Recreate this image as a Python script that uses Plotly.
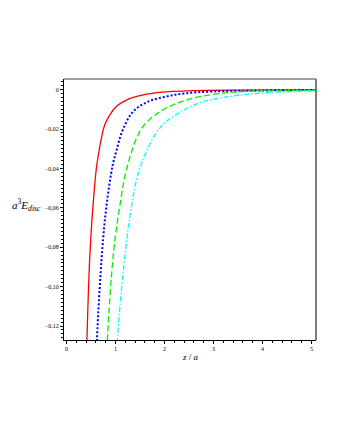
import plotly.graph_objects as go

# values (z/a, a^3 E_disc)
z_red = [0.40, 0.418, 0.48, 0.54, 0.61, 0.663, 0.712, 0.78, 0.882, 1.018, 1.223, 1.562, 1.903, 2.58, 3.5, 5.1]
e_red = [-0.150, -0.127, -0.083, -0.0595, -0.040, -0.0314, -0.0247, -0.0179, -0.0129, -0.0086,
         -0.0053, -0.0027, -0.0014, -0.0005, -0.0002, -0.0001]

z_blue = [0.60, 0.622, 0.728, 0.814, 0.943, 1.02, 1.14, 1.358, 1.664, 2.04, 2.414, 3.0, 4.0, 5.1]
e_blue = [-0.150, -0.127, -0.082, -0.0595, -0.0383, -0.031, -0.021, -0.0112, -0.0061, -0.0035,
          -0.0019, -0.0009, -0.0004, -0.0002]

z_green = [0.81, 0.835, 0.963, 1.086, 1.24, 1.54, 1.903, 2.175, 2.347, 2.721, 3.538, 4.3, 5.1]
e_green = [-0.150, -0.127, -0.082, -0.0595, -0.039, -0.0195, -0.0112, -0.0078, -0.0061, -0.0035,
           -0.0010, -0.0006, -0.0003]

z_cyan = [1.01, 1.039, 1.203, 1.325, 1.51, 1.903, 2.35, 2.721, 3.197, 3.879, 4.901, 5.1]
e_cyan = [-0.150, -0.127, -0.082, -0.0595, -0.039, -0.0195, -0.011, -0.0066, -0.0040, -0.0019,
          -0.0007, -0.0006]

y_ticks = [0, -0.02, -0.04, -0.06, -0.08, -0.10, -0.12]
y_ticktext = ["0", "\u22120,02", "\u22120,04", "\u22120,06", "\u22120,08", "\u22120,10", "\u22120,12"]
x_ticks = [0, 1, 2, 3, 4, 5]

fig = go.Figure()

fig.add_trace(go.Scatter(x=z_red, y=e_red, mode="lines", line_shape="spline",
                         line=dict(color="#ff0000", width=1.3)))
fig.add_trace(go.Scatter(x=z_blue, y=e_blue, mode="lines", line_shape="spline",
                         line=dict(color="#0000ff", width=2, dash="2px,2px")))
fig.add_trace(go.Scatter(x=z_green, y=e_green, mode="lines", line_shape="spline",
                         line=dict(color="#00ee00", width=1.3, dash="6px,3px")))
fig.add_trace(go.Scatter(x=z_cyan, y=e_cyan, mode="lines", line_shape="spline",
                         line=dict(color="#00ffff", width=1.3, dash="5px,2px,1.5px,2px")))

tickfont = dict(family="Liberation Serif", size=6, color="black")

# page body has an 8px margin, so the figure is a bit smaller than the window
fig.update_layout(
    width=332, height=432,
    margin=dict(l=56, r=24, t=71, b=100),
    paper_bgcolor="white", plot_bgcolor="white",
    showlegend=False,
    xaxis=dict(range=[-0.05, 5.09], tickvals=x_ticks, ticktext=[str(v) for v in x_ticks],
               showgrid=False, zeroline=False, showline=True, linecolor="black", linewidth=1,
               ticks="outside", ticklen=3, tickcolor="black", tickfont=tickfont,
               minor=dict(dtick=0.2, ticks="outside", ticklen=2, tickcolor="black")),
    yaxis=dict(range=[-0.1271, 0.0054], tickvals=y_ticks, ticktext=y_ticktext,
               showgrid=False, zeroline=False, showline=True, linecolor="black", linewidth=1,
               ticks="outside", ticklen=3, tickcolor="black", tickfont=tickfont,
               minor=dict(dtick=0.002, ticks="outside", ticklen=2, tickcolor="black")),
    shapes=[
        dict(type="line", xref="paper", yref="paper", x0=0, x1=1, y0=1, y1=1,
             line=dict(color="#a0a0a0", width=2)),
        dict(type="line", xref="paper", yref="paper", x0=1, x1=1, y0=0, y1=1,
             line=dict(color="#505050", width=1.5)),
    ],
    annotations=[
        dict(text="<i>a</i><sup>3</sup><i>E</i><sub><i>disc</i></sub>", xref="paper", yref="paper",
             x=-0.148, y=0.517, xanchor="center", yanchor="middle", showarrow=False,
             font=dict(family="Liberation Serif", size=11, color="black")),
        dict(text="<i>z</i> / <i>a</i>", xref="paper", yref="paper",
             x=0.5, y=-0.065, xanchor="center", yanchor="middle", showarrow=False,
             font=dict(family="Liberation Serif", size=9, color="black")),
    ],
)

fig.write_html("out.html")
